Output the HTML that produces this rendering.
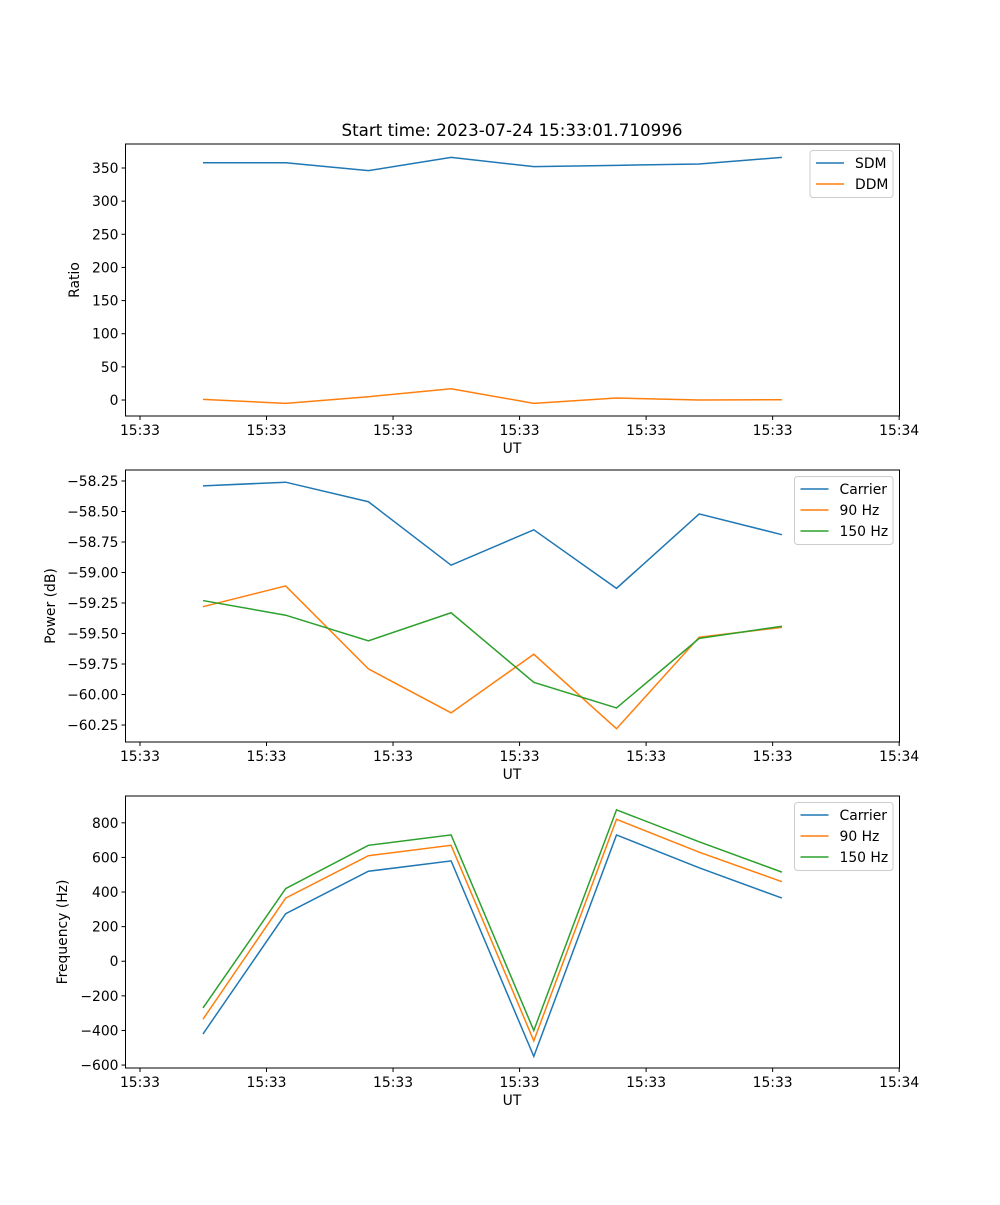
<!DOCTYPE html>
<html><head><meta charset="utf-8"><style>
html,body{margin:0;padding:0;background:#fff;}
svg text{font-family:"DejaVu Sans","Liberation Sans",sans-serif;fill:#000;}
</style></head><body>
<svg id="fig" width="1000" height="1200" xmlns="http://www.w3.org/2000/svg"></svg>
<script>
const xIdx=[0,1,2,3,4,5,6,7];
const xTickVals=[-0.762,0.768,2.298,3.828,5.358,6.888,8.418];
const xTickLabels=["15:33","15:33","15:33","15:33","15:33","15:33","15:34"];
const sdm=[358,358,346,366,352,354,356,366];
const ddm=[1,-5,5,17,-5,3,0,0.5];
const pCarrier=[-58.29,-58.26,-58.42,-58.94,-58.65,-59.13,-58.52,-58.69];
const p90=[-59.28,-59.11,-59.79,-60.15,-59.67,-60.28,-59.53,-59.45];
const p150=[-59.23,-59.35,-59.56,-59.33,-59.90,-60.11,-59.54,-59.44];
const fCarrier=[-420,275,520,580,-550,730,540,365];
const f90=[-335,365,610,670,-460,820,630,460];
const f150=[-270,420,670,730,-400,875,690,515];
const y1Ticks=[0,50,100,150,200,250,300,350];
const y2Ticks=[-58.25,-58.5,-58.75,-59,-59.25,-59.5,-59.75,-60,-60.25];
const y3Ticks=[-600,-400,-200,0,200,400,600,800];

const NS="http://www.w3.org/2000/svg";
const fig=document.getElementById('fig');
function el(tag,attrs,parent,text){const e=document.createElementNS(NS,tag);for(const k in attrs)e.setAttribute(k,attrs[k]);if(text!==undefined)e.textContent=text;(parent||fig).appendChild(e);return e;}
const L=125.5,R=899.5;
const xs=v=>203+v*82.7;
const C={b:"#1f77b4",o:"#ff7f0e",g:"#2ca02c"};

function panel(name,top,bot,ymin,ymax,yTicks,fmt,ylabel,ylabX,series,legend){
  const g=el('g',{});
  
  
  const ys=v=>bot-(v-ymin)/(ymax-ymin)*(bot-top);
  series.forEach(s=>{
    const p=el('polyline',{points:s.data.map((v,i)=>xs(xIdx[i])+','+ys(v)).join(' '),fill:'none',stroke:s.c,'stroke-width':1.5},g);
    
    
  });
  const fr=el('rect',{x:L,y:top,width:R-L,height:bot-top,fill:'none',stroke:'#000','stroke-width':1},g);
  
  
  xTickVals.forEach((v,i)=>{
    const x=xs(v);
    el('line',{x1:x,x2:x,y1:bot,y2:bot+4,stroke:'#000'},g);
    const t=el('text',{x:x,y:bot+19,'text-anchor':'middle','font-size':13.9},g,xTickLabels[i]);
    
    
  });
  yTicks.forEach(v=>{
    const y=ys(v);
    el('line',{x1:L-4,x2:L,y1:y,y2:y,stroke:'#000'},g);
    const t=el('text',{x:L-7,y:y+5,'text-anchor':'end','font-size':13.9},g,fmt(v));
    
    
  });
  const xl=el('text',{x:512,y:bot+37,'text-anchor':'middle','font-size':13.9},g,'UT');
  
  
  const yl=el('text',{x:ylabX,y:(top+bot)/2,'text-anchor':'middle','font-size':13.9,transform:`rotate(-90 ${ylabX} ${(top+bot)/2})`},g,ylabel);
  
  
  const lg=el('g',{},g);
  
  
  el('rect',{x:legend.x,y:top+6.5,width:legend.w,height:series.length*21+5,rx:3,fill:'#fff','fill-opacity':0.8,stroke:'#ccc'},lg);
  series.forEach((s,i)=>{
    const y=top+19+i*21;
    el('line',{x1:legend.x+6,x2:legend.x+34,y1:y,y2:y,stroke:s.c,'stroke-width':1.5},lg);
    const t=el('text',{x:legend.x+45,y:y+5,'font-size':13.9},lg,s.label);
    
    
  });
}

const tt=el('text',{x:512,y:136,'text-anchor':'middle','font-size':16.7},fig,'Start time: 2023-07-24 15:33:01.710996');



panel('ratio',144,416,-24.1,386.2,y1Ticks,v=>String(v),'Ratio',79,
  [{id:'sdm',data:sdm,c:C.b,label:'SDM'},{id:'ddm',data:ddm,c:C.o,label:'DDM'}],{x:810,w:83});
panel('power',470,742,-60.389,-58.16,y2Ticks,v=>'\u2212'+Math.abs(v).toFixed(2),'Power (dB)',55,
  [{id:'carrier',data:pCarrier,c:C.b,label:'Carrier'},{id:'90hz',data:p90,c:C.o,label:'90 Hz'},{id:'150hz',data:p150,c:C.g,label:'150 Hz'}],{x:794.5,w:98.5});
panel('frequency',796,1068,-617,955,y3Ticks,v=>(v<0?'\u2212':'')+Math.abs(v),'Frequency (Hz)',67,
  [{id:'carrier',data:fCarrier,c:C.b,label:'Carrier'},{id:'90hz',data:f90,c:C.o,label:'90 Hz'},{id:'150hz',data:f150,c:C.g,label:'150 Hz'}],{x:794.5,w:98.5});
</script>
</body></html>
